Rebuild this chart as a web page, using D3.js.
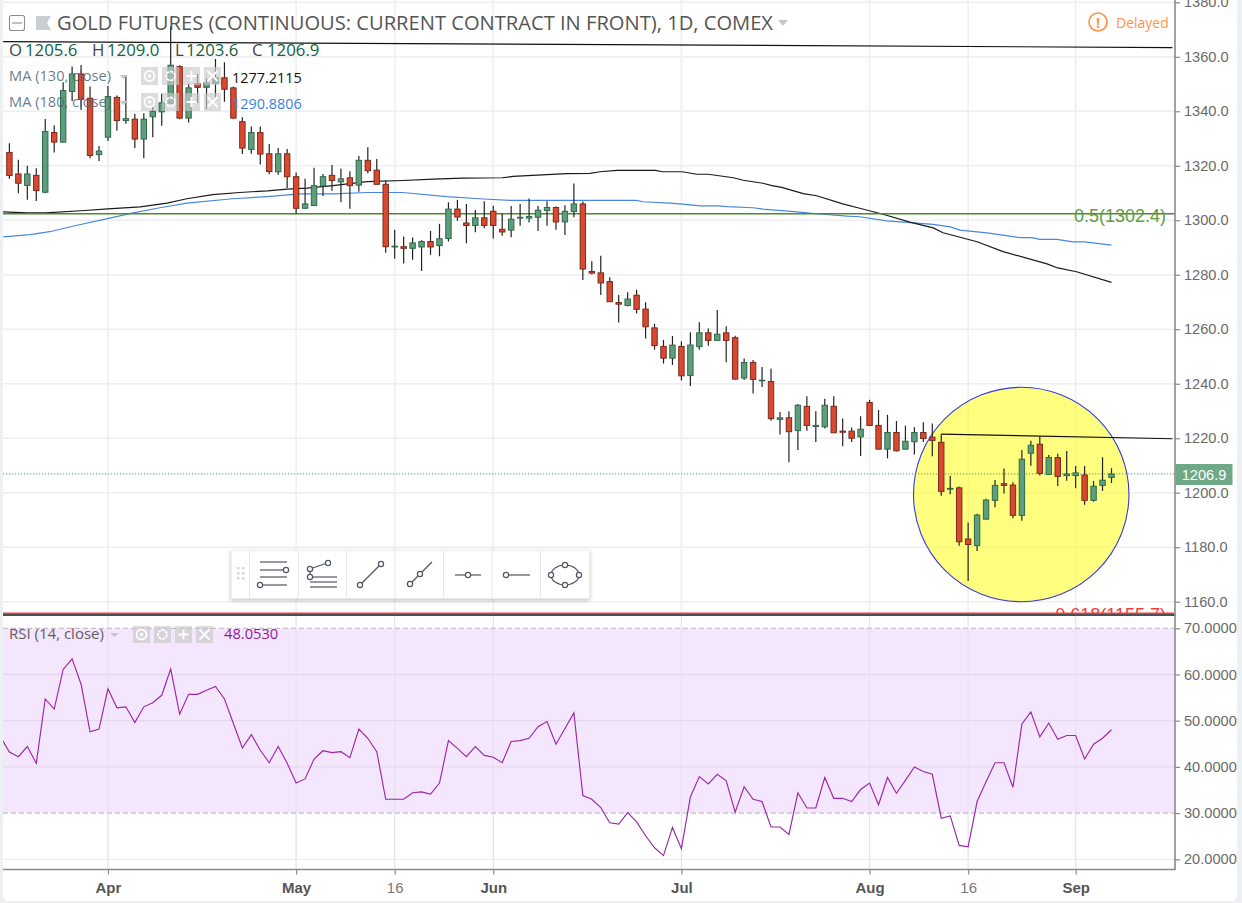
<!DOCTYPE html>
<html>
<head>
<meta charset="utf-8">
<script src="https://cdn.jsdelivr.net/npm/d3@7/dist/d3.min.js"></script>
<style>
html,body{margin:0;padding:0;background:#eef1f4;overflow:hidden}
svg{display:block}
text{font-family:"Open Sans",sans-serif}
</style>
</head>
<body>
<svg id="c" width="1242" height="903"></svg>
<script>
const open=[1324.9,1317.0,1312.8,1316.5,1310.3,1332.2,1328.7,1347.3,1353.7,1344.8,
1324.1,1330.5,1345.1,1336.6,1337.1,1329.8,1338.0,1339.8,1343.0,1356.4,
1337.5,1350.1,1348.8,1350.3,1352.3,1348.6,1336.2,1326.0,1332.2,1324.4,
1317.8,1324.4,1316.0,1304.4,1305.4,1312.6,1316.5,1314.1,1315.6,1312.9,
1322.0,1318.4,1313.2,1290.2,1290.3,1289.7,1290.2,1292.2,1290.7,1293.3,
1304.1,1299.0,1298.1,1300.9,1303.3,1296.7,1296.4,1300.8,1300.8,1301.1,
1303.6,1304.7,1299.4,1303.2,1306.0,1281.2,1280.7,1277.5,1269.8,1268.7,
1272.5,1267.4,1260.5,1253.7,1249.4,1253.7,1243.0,1253.6,1258.7,1255.9,
1258.7,1256.9,1242.1,1247.8,1241.1,1240.8,1226.9,1227.5,1222.8,1231.7,
1224.3,1224.2,1231.7,1222.6,1222.6,1220.5,1233.1,1224.7,1216.0,1222.1,
1216.0,1218.7,1222.1,1220.4,1218.5,1201.3,1201.8,1183.0,1180.6,1190.3,
1197.2,1203.3,1202.8,1191.7,1214.5,1217.8,1206.7,1212.9,1206.3,1206.3,
1206.5,1197.2,1202.7,1205.6];
const close=[1316.4,1313.6,1317.0,1310.9,1332.6,1328.7,1347.6,1353.7,1344.4,1323.8,
1325.4,1345.4,1336.6,1337.3,1329.8,1337.1,1340.0,1343.1,1356.9,1337.5,
1348.6,1348.8,1350.4,1352.3,1348.1,1337.5,1326.5,1332.2,1324.3,1317.9,
1324.4,1316.0,1304.4,1306.0,1312.7,1316.0,1314.6,1315.2,1312.7,1322.0,
1318.2,1313.2,1290.3,1290.5,1289.7,1291.7,1292.2,1290.2,1293.2,1304.1,
1301.2,1298.1,1300.9,1298.1,1298.1,1295.7,1300.4,1301.1,1301.4,1303.7,
1304.7,1299.4,1303.3,1306.0,1282.1,1280.6,1277.0,1270.1,1269.2,1271.1,
1267.3,1260.9,1254.0,1249.4,1254.2,1242.9,1254.2,1258.7,1255.9,1258.2,
1255.9,1241.7,1247.8,1241.6,1241.3,1227.2,1227.5,1222.4,1232.1,1224.7,
1224.7,1232.1,1222.0,1222.2,1220.0,1223.3,1224.7,1216.0,1222.1,1215.4,
1218.9,1222.1,1219.9,1219.2,1200.5,1201.6,1182.0,1181.0,1191.8,1197.3,
1202.7,1202.7,1191.7,1212.3,1217.4,1207.1,1212.9,1206.0,1206.9,1207.3,
1197.2,1202.4,1204.6,1206.9];
const high=[1328.3,1322.2,1320.0,1319.1,1337.2,1334.9,1350.7,1356.4,1357.0,1349.1,
1327.3,1349.3,1345.8,1353.0,1339.1,1339.3,1341.7,1346.4,1371.1,1356.9,
1350.3,1353.7,1352.1,1359.2,1358.0,1349.1,1337.8,1334.4,1334.4,1328.0,
1326.5,1326.2,1317.5,1315.2,1319.3,1317.0,1320.3,1318.9,1318.0,1323.6,
1326.8,1322.5,1314.6,1296.5,1294.0,1293.7,1292.7,1296.1,1298.7,1306.6,
1307.5,1306.0,1303.8,1307.0,1305.3,1302.4,1305.2,1306.0,1308.0,1305.2,
1307.0,1305.1,1305.5,1313.5,1306.9,1285.0,1287.0,1279.1,1272.6,1273.6,
1274.5,1269.9,1262.0,1256.1,1257.5,1255.6,1258.9,1262.6,1260.3,1267.1,
1261.1,1257.6,1249.3,1248.7,1246.1,1245.5,1229.6,1229.9,1232.6,1235.4,
1229.9,1234.5,1235.4,1227.2,1223.9,1228.1,1234.1,1230.4,1228.6,1226.3,
1224.6,1224.0,1225.9,1225.4,1221.5,1206.2,1202.3,1189.1,1192.3,1197.8,
1204.7,1208.9,1203.8,1215.7,1219.1,1220.6,1213.8,1214.3,1215.3,1209.8,
1209.8,1204.3,1213.0,1209.0];
const low=[1315.2,1309.9,1307.5,1307.1,1309.9,1324.9,1328.5,1343.8,1340.5,1322.8,
1321.8,1329.1,1332.9,1335.4,1326.5,1322.8,1330.5,1334.7,1342.8,1337.1,
1335.9,1343.0,1340.8,1345.2,1343.5,1337.2,1324.3,1324.4,1320.5,1316.9,
1316.7,1311.8,1302.3,1304.3,1305.3,1308.9,1310.8,1306.6,1304.2,1310.5,
1317.3,1313.0,1288.1,1285.9,1284.1,1285.5,1281.4,1287.3,1286.8,1292.2,
1299.8,1291.6,1295.6,1297.1,1293.3,1294.3,1293.8,1298.0,1299.2,1296.1,
1298.0,1296.5,1294.6,1301.1,1278.1,1280.1,1272.6,1270.0,1262.5,1268.4,
1265.8,1256.6,1252.5,1247.4,1246.9,1241.2,1239.2,1252.5,1253.9,1255.8,
1247.9,1241.6,1241.4,1236.4,1238.8,1226.4,1221.4,1211.2,1215.7,1222.7,
1218.6,1223.6,1221.9,1217.1,1218.6,1213.5,1224.6,1215.9,1212.6,1215.1,
1215.8,1214.0,1218.6,1213.4,1198.9,1199.4,1180.5,1167.6,1178.6,1190.2,
1194.7,1199.7,1190.6,1189.7,1209.9,1206.3,1206.6,1202.5,1204.4,1201.6,
1195.6,1196.7,1200.6,1203.6];

// RSI, first value belongs to the bar just left of the first candle
const rsi=[46.5,43.2,42.2,44.4,40.8,54.7,52.5,61.1,63.4,57.9,47.6,48.2,56.9,52.8,53.0,49.6,53.0,53.9,55.5,61.2,
51.4,55.7,55.7,56.6,57.4,54.7,49.4,44.1,47.0,43.6,40.9,44.4,40.8,36.5,37.4,41.7,43.5,43.1,43.3,42.0,
48.2,46.2,43.3,33.0,33.0,33.0,34.4,34.6,34.1,36.5,45.7,44.0,42.2,44.4,42.5,42.1,40.9,45.5,45.7,46.2,
48.7,49.8,44.9,48.3,51.7,33.8,33.0,31.2,27.9,27.6,30.1,28.1,25.1,22.5,20.8,26.9,22.3,33.5,37.9,36.3,
38.4,37.0,30.2,35.7,33.0,32.5,27.0,27.0,25.4,34.4,31.1,31.1,37.7,33.2,33.2,32.5,35.1,36.5,31.8,37.7,
34.3,37.1,40.0,39.0,38.4,28.9,29.4,23.0,22.7,32.5,36.8,40.9,40.9,35.6,49.3,51.9,46.5,49.5,46.0,46.8,
46.8,41.7,44.9,46.2,48.05];

const ma130Idx=[-0.7,2,4,8,11,14.6,17.6,19.8,22.7,25.7,28.8,31,33.2,36.1,39.9,43.9,47.3,50.6,55,56.2,62.2,64.8,65.9,67.8,72.1,72.9,75.1,76.7,78,80.8,81.9,84.1,85.1,86.2,88.6,90.1,93,94.9,97.5,100.5,103.1,104.2,108,110.9,115.8,117,119.1,123];
const ma130=[1303.1,1302.7,1302.7,1303.5,1304.2,1304.9,1306.3,1307.9,1309.4,1310.2,1310.8,1311.4,1311.8,1312.7,1314.2,1314.6,1315.1,1315.5,1315.6,1316.1,1317.1,1317.2,1317.8,1318.3,1318.3,1317.8,1317.8,1316.9,1316.9,1315.6,1314.7,1313.6,1312.7,1312.1,1309.8,1309.0,1306.0,1304.4,1302.2,1299.3,1297.2,1295.4,1292.1,1288.5,1284.0,1282.5,1281.1,1277.2];
const ma180Idx=[-0.7,2.3,4.5,7.3,10.7,13.8,16.8,19.8,24.9,28.8,32.4,36.1,39.9,43.9,48.8,52.9,55.9,64.8,70,70.7,73.7,75.1,77.1,79.1,80.1,83,84.1,87.9,90.1,93.5,94.9,97.9,100.5,103.1,105,106.1,109.1,112.8,114.1,115,116.9,118.7,120,123];
const ma180=[1293.9,1294.7,1295.8,1298.0,1300.4,1302.7,1304.6,1306.3,1307.9,1308.7,1309.7,1309.7,1310.2,1310.2,1308.7,1307.8,1307.3,1307.3,1307.3,1306.8,1306.3,1305.9,1305.3,1305.3,1305.0,1304.6,1304.1,1303.1,1302.4,1301.5,1301.3,1299.8,1299.1,1298.5,1297.6,1296.4,1295.4,1293.6,1293.6,1293.0,1293.0,1292.1,1292.1,1290.9];

const priceTicks=[1160,1180,1200,1220,1240,1260,1280,1300,1320,1340,1360,1380];
const rsiTicks=[20,30,40,50,60,70];
const timeIdx=[11,32,43,54,75,96,107,119];
const timeLabels=["Apr","May","16","Jun","Jul","Aug","16","Sep"];
const boldLabels=["Apr","May","Jun","Jul","Aug","Sep"];
const fibLevels=[{label:"0.5(1302.4)",price:1302.4,color:"#4a8c2a",text:"#5f9c45",w:1.3},{label:"0.618(1155.7)",price:1155.7,color:"#f73b3b",text:"#f73b3b",w:2}];
const trendA=[{i:-0.7,p:1365.6},{i:129.8,p:1363.4}];
const trendB=[{i:104,p:1221.5},{i:129.8,p:1219.8}];
const circleBox={i0:100.9,i1:124.95,p0:1238.7,p1:1160.0};
const lastPrice=1206.9;
const ohlc=[["O","1205.6",9,25],["H","1209.0",92,107],["L","1203.6",175,186],["C","1206.9",252,267]];

const svg=d3.select("#c");
const LEFT=3,RIGHT=1174.5,PT=0,PB=614,RT=616,RB=869;
const x=d3.scaleLinear().domain([0,123]).range([9.4,1111.5]);
const y=d3.scaleLinear().domain([1160,1360]).range([601.7,56.8]);
const r=d3.scaleLinear().domain([20,70]).range([859.3,628.3]);

svg.append("rect").attr("width",1242).attr("height",903).attr("fill","#eef1f4");
svg.append("rect").attr("x",LEFT).attr("y",-6).attr("width",1234).attr("height",907).attr("rx",5).attr("fill","#fff");

const defs=svg.append("defs");
defs.append("clipPath").attr("id","cp").append("rect").attr("x",LEFT).attr("y",PT).attr("width",RIGHT-LEFT).attr("height",PB-PT);
defs.append("clipPath").attr("id","cr").append("rect").attr("x",LEFT).attr("y",RT).attr("width",RIGHT-LEFT).attr("height",RB-RT);
const f=defs.append("filter").attr("id","sh").attr("x","-5%").attr("y","-20%").attr("width","110%").attr("height","150%");
f.append("feDropShadow").attr("dx",0).attr("dy",1.5).attr("stdDeviation",2).attr("flood-color","#000").attr("flood-opacity",0.25);

const pane=svg.append("g").attr("clip-path","url(#cp)");
const rp=svg.append("g").attr("clip-path","url(#cr)");

// grid price pane
const grid="#eceef0";
pane.selectAll("line.h").data(priceTicks).join("line").attr("x1",LEFT).attr("x2",RIGHT)
 .attr("y1",d=>y(d)).attr("y2",d=>y(d)).attr("stroke",grid).attr("stroke-width",1.5);
pane.selectAll("line.v").data(timeIdx).join("line").attr("x1",d=>x(d)).attr("x2",d=>x(d))
 .attr("y1",PT).attr("y2",PB).attr("stroke",grid).attr("stroke-width",1.5);

// yellow circle
pane.append("ellipse")
 .attr("cx",(x(circleBox.i0)+x(circleBox.i1))/2).attr("cy",(y(circleBox.p0)+y(circleBox.p1))/2)
 .attr("rx",(x(circleBox.i1)-x(circleBox.i0))/2).attr("ry",(y(circleBox.p1)-y(circleBox.p0))/2)
 .attr("fill","#ffff00").attr("fill-opacity",0.5).attr("stroke","#3a3ad6").attr("stroke-width",1.1);

// MA lines
const mk=(idx,vals)=>d3.line().x((d,i)=>x(idx[i])).y(d=>y(d))(vals);
pane.append("path").attr("d",mk(ma180Idx,ma180)).attr("fill","none").attr("stroke","#4a86e0").attr("stroke-width",1.2);
pane.append("path").attr("d",mk(ma130Idx,ma130)).attr("fill","none").attr("stroke","#1a1a1a").attr("stroke-width",1.2);

// fib lines
fibLevels.forEach(l=>{
 pane.append("line").attr("x1",LEFT).attr("x2",RIGHT).attr("y1",y(l.price)).attr("y2",y(l.price))
  .attr("stroke",l.color).attr("stroke-width",l.w);
 pane.append("text").attr("x",1166).attr("y",y(l.price)+8).attr("text-anchor","end")
  .attr("font-size",18).attr("fill",l.text).attr("style",'font-family:"Liberation Sans",sans-serif').text(l.label);
});

// last price dotted line
pane.append("line").attr("x1",LEFT).attr("x2",RIGHT).attr("y1",y(lastPrice)).attr("y2",y(lastPrice))
 .attr("stroke","#4f9a78").attr("stroke-width",1).attr("stroke-dasharray","1.2 1.8");

// candles
const cg=pane.append("g");
const bars=d3.range(open.length);
cg.selectAll("line.w").data(bars).join("line").attr("x1",d=>x(d)).attr("x2",d=>x(d))
 .attr("y1",d=>y(high[d])).attr("y2",d=>y(low[d])).attr("stroke","#222").attr("stroke-width",1.2);
const bw=5.4;
cg.selectAll("rect.b").data(bars).join("rect")
 .attr("x",d=>x(d)-bw/2)
 .attr("y",d=>y(Math.max(open[d],close[d])))
 .attr("width",bw)
 .attr("height",d=>Math.max(0.6,Math.abs(y(open[d])-y(close[d]))))
 .attr("fill",d=>close[d]<open[d]?"#d9492f":"#5f9e7c")
 .attr("stroke",d=>close[d]<open[d]?"#7c2a1c":"#2e6a4c").attr("stroke-width",1);

// trendlines
[trendA,trendB].forEach(t=>{
 pane.append("line").attr("x1",x(t[0].i)).attr("y1",y(t[0].p)).attr("x2",x(t[1].i)).attr("y2",y(t[1].p))
  .attr("stroke","#111").attr("stroke-width",1.2);
});

// RSI pane
rp.append("rect").attr("x",LEFT).attr("width",RIGHT-LEFT).attr("y",r(70)).attr("height",r(30)-r(70)).attr("fill","#f4e6fd");
rp.selectAll("line.h").data([20,40,50,60]).join("line").attr("x1",LEFT).attr("x2",RIGHT)
 .attr("y1",d=>r(d)).attr("y2",d=>r(d)).attr("stroke",d=>d==20?"#eceef0":"#e5d7ee").attr("stroke-width",1.3);
rp.selectAll("line.v").data(timeIdx).join("line").attr("x1",d=>x(d)).attr("x2",d=>x(d))
 .attr("y1",RT).attr("y2",RB).attr("stroke","#e7e3ec").attr("stroke-width",1.3);
rp.selectAll("line.d").data([30,70]).join("line").attr("x1",LEFT).attr("x2",RIGHT)
 .attr("y1",d=>r(d)).attr("y2",d=>r(d)).attr("stroke","#c8bccd").attr("stroke-width",1.3).attr("stroke-dasharray","5 3");
rp.append("path").attr("d",d3.line().x((d,i)=>x(i-1)).y(d=>r(d))(rsi))
 .attr("fill","none").attr("stroke","#9c27a8").attr("stroke-width",1.15);

// separator and frame
svg.append("line").attr("x1",LEFT).attr("x2",RIGHT+1).attr("y1",615).attr("y2",615).attr("stroke","#4f4f4f").attr("stroke-width",2);

// axes
const axisFont='"Liberation Sans",sans-serif';
function styleAxis(g){
 g.select(".domain").attr("stroke","#8a8a8a").attr("stroke-width",1.6);
 g.selectAll(".tick line").attr("stroke","#8a8a8a").attr("stroke-width",1.2);
 g.selectAll(".tick text").attr("fill","#6a6a6a").attr("font-size",14.6).attr("style","font-family:"+axisFont);
}
const ya=svg.append("g").attr("transform",`translate(${RIGHT+0.5},0)`)
 .call(d3.axisRight(y).tickValues(priceTicks).tickSize(5).tickPadding(4).tickFormat(d3.format(".1f")));
ya.select(".domain").attr("d",`M0,0V${PB+2}`);
styleAxis(ya);
const ra=svg.append("g").attr("transform",`translate(${RIGHT+0.5},0)`)
 .call(d3.axisRight(r).tickValues(rsiTicks).tickSize(5).tickPadding(4).tickFormat(d3.format(".4f")));
ra.select(".domain").attr("d",`M0,${RT-1}V${RB+1}`);
styleAxis(ra);
const xa=svg.append("g").attr("transform",`translate(0,${RB+0.5})`)
 .call(d3.axisBottom(x).tickValues(timeIdx).tickSize(5).tickPadding(8).tickFormat((d,i)=>timeLabels[i]));
xa.select(".domain").attr("d",`M${LEFT},0H${RIGHT+1}`);
styleAxis(xa);
xa.selectAll(".tick text").attr("font-size",15).attr("font-weight",(d,i)=>boldLabels.includes(timeLabels[i])?"bold":"normal")
 .attr("fill",(d,i)=>boldLabels.includes(timeLabels[i])?"#555":"#777");

// last price label
svg.append("rect").attr("x",RIGHT+1).attr("y",464).attr("width",57).attr("height",21).attr("fill","#6ea886");
svg.append("text").attr("x",RIGHT+29.5).attr("y",479.5).attr("text-anchor","middle").attr("fill","#fff")
 .attr("font-size",14.6).attr("style","font-family:"+axisFont).text(d3.format(".1f")(lastPrice));

// header
svg.append("rect").attr("x",9.5).attr("y",15.5).attr("width",15).attr("height",15).attr("rx",2).attr("fill","none").attr("stroke","#8a8f94").attr("stroke-width",1.1);
svg.append("line").attr("x1",12).attr("x2",22).attr("y1",23).attr("y2",23).attr("stroke","#8a8f94").attr("stroke-width",1.1);
svg.append("path").attr("d",d3.line()([[36,16],[51,16],[47,23],[51,30],[36,30]])+"Z").attr("fill","#c9ced2");
svg.append("text").attr("x",57).attr("y",30).attr("font-size",19.5).attr("fill","#555")
 .attr("textLength",716).attr("lengthAdjust","spacingAndGlyphs")
 .text("GOLD FUTURES (CONTINUOUS: CURRENT CONTRACT IN FRONT), 1D, COMEX");
svg.append("path").attr("d","M778,20H788L783,26Z").attr("fill","#c6c9cc");

// delayed
svg.append("circle").attr("cx",1098).attr("cy",22).attr("r",9).attr("fill","#fff").attr("stroke","#ff9448").attr("stroke-width",1.7);
svg.append("text").attr("x",1098).attr("y",27.5).attr("text-anchor","middle").attr("font-size",14).attr("font-weight","bold").attr("fill","#ff9448").text("!");
svg.append("text").attr("x",1116).attr("y",28).attr("font-size",14).attr("fill","#ff9448").text("Delayed");

// ohlc
ohlc.forEach(o=>{
 svg.append("text").attr("x",o[2]).attr("y",55.5).attr("font-size",16.8).attr("fill","#444").text(o[0]);
 svg.append("text").attr("x",o[3]).attr("y",55.5).attr("font-size",16.8).attr("fill","#14603f").text(o[1]);
});

// legend helper
function legendIcons(x0,w,y0,h,gap){
 const g=svg.append("g");
 ["eye","gear","plus","x"].forEach((k,i)=>{
  const lx=x0+i*(w+gap), cx=lx+w/2, cy=y0+h/2;
  g.append("rect").attr("x",lx).attr("y",y0).attr("width",w).attr("height",h).attr("fill","#c9c9c9").attr("fill-opacity",0.65);
  const s=(a)=>a.attr("stroke","#fff").attr("stroke-width",1.8).attr("fill","none");
  if(k=="eye"){s(g.append("circle").attr("cx",cx).attr("cy",cy).attr("r",5));g.append("circle").attr("cx",cx).attr("cy",cy).attr("r",1.8).attr("fill","#fff");}
  if(k=="gear"){s(g.append("circle").attr("cx",cx).attr("cy",cy).attr("r",4.5)).attr("stroke-dasharray","3 1");}
  if(k=="plus"){s(g.append("path").attr("d",`M${cx-5},${cy}H${cx+5}M${cx},${cy-5}V${cy+5}`));}
  if(k=="x"){s(g.append("path").attr("d",`M${cx-5},${cy-5}L${cx+5},${cy+5}M${cx+5},${cy-5}L${cx-5},${cy+5}`));}
 });
}
function legend(label,yb,cx,val,vx,col,o){
 svg.append("text").attr("x",9).attr("y",yb).attr("font-size",14.6).attr("fill","#4d6478").attr("fill-opacity",o).text(label);
 svg.append("path").attr("d",`M${cx},${yb-6}H${cx+9}L${cx+4.5},${yb-2}Z`).attr("fill","#c6c9cc");
 svg.append("text").attr("x",vx).attr("y",yb+1.5).attr("font-size",14.4).attr("fill",col).text(val);
}
legendIcons(141,17,67,18,4);
legend("MA (130, close)",81,119,"1277.2115",232,"#111",0.85);
legendIcons(141,17,93,18,4);
legend("MA (180, close)",107,119,"1290.8806",232,"#3d7fe0",0.85);
legendIcons(133,17,626,17,4);
svg.append("text").attr("x",9).attr("y",639).attr("font-size",15).attr("fill","#5f5f5f").text("RSI (14, close)");
svg.append("path").attr("d","M110,633H119L114.5,637Z").attr("fill","#c6c9cc");
svg.append("text").attr("x",224).attr("y",639).attr("font-size",14.7).attr("fill","#8e1a9b").text("48.0530");

// drawing toolbar
const tb=svg.append("g");
tb.append("rect").attr("x",231.5).attr("y",550.7).attr("width",358).attr("height",47.5).attr("fill","#fff").attr("stroke","#eef0f2").attr("filter","url(#sh)");
[249.5,298.5,346.5,395,443.5,492,540.5].forEach(v=>tb.append("line").attr("x1",v).attr("x2",v).attr("y1",551).attr("y2",598).attr("stroke","#e6e9ec"));
[[238,568],[243,568],[238,573],[243,573],[238,578],[243,578]].forEach(p=>tb.append("rect").attr("x",p[0]-1).attr("y",p[1]-1).attr("width",2.5).attr("height",2.5).attr("fill","#d4d8dc"));
const ic="#505560";
const ln=(a,b,c,d)=>tb.append("line").attr("x1",a).attr("y1",b).attr("x2",c).attr("y2",d).attr("stroke",ic).attr("stroke-width",1.2);
const dot=(a,b)=>tb.append("circle").attr("cx",a).attr("cy",b).attr("r",2.6).attr("fill","#fff").attr("stroke",ic).attr("stroke-width",1.2);
ln(260,562,287,562);ln(260,570,287,570);dot(286,570);ln(260,577,287,577);ln(260,585,287,585);dot(260,585);
ln(310,569,327,563);ln(310,569,310,577);ln(310,577,337,577);ln(310,582,337,582);ln(310,587,337,587);dot(310,569);dot(310,577);dot(328,563);
ln(360,585,381,564);dot(360,585);dot(381,564);
ln(410,584,432,562);dot(410,584);dot(420,574);
ln(455,575,481,575);dot(468,575);
ln(505,575,530,575);dot(506,575);
tb.append("ellipse").attr("cx",565).attr("cy",575).attr("rx",14).attr("ry",10).attr("fill","none").attr("stroke",ic).attr("stroke-width",1.2);
dot(551,575);dot(579,575);dot(565,565);dot(565,585);
</script>
</body>
</html>
